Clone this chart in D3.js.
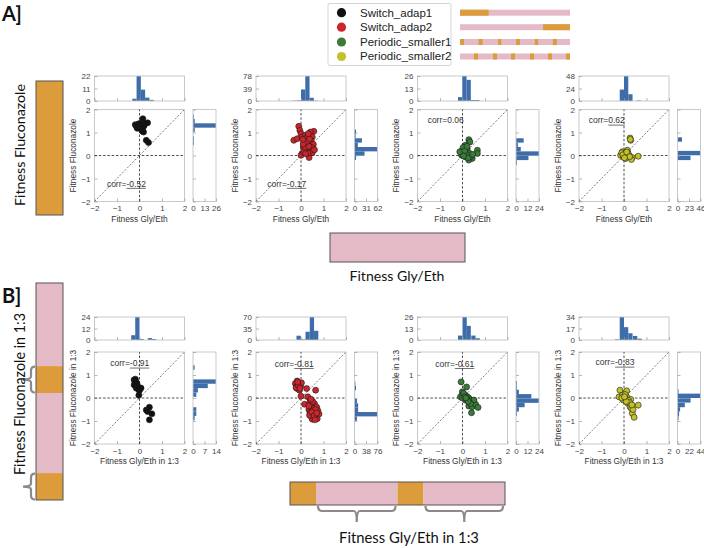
<!DOCTYPE html>
<html><head><meta charset="utf-8">
<script src="https://cdn.jsdelivr.net/npm/d3@7"></script>
<style>body{margin:0;background:#fff}</style>
</head><body><svg id="c" width="704" height="548" xmlns="http://www.w3.org/2000/svg"></svg>
<script>
// ---------------- DATA ----------------
const seriesNames = ["Switch_adap1", "Switch_adap2", "Periodic_smaller1", "Periodic_smaller2"];
const seriesColors = ["#111111", "#cc262c", "#3b7b3a", "#c3c12a"];
// orange fractions in each legend schedule bar
const legendOrange = [
  [[0, 0.26]],
  [[0.755, 1]],
  [[0, 0.036], [0.17, 0.205], [0.345, 0.375], [0.51, 0.545], [0.68, 0.71], [0.845, 0.88]],
  [[0.127, 0.164], [0.3, 0.336], [0.464, 0.5], [0.636, 0.673], [0.8, 0.836], [0.964, 1]]
];
const axisTicks = [-2, -1, 0, 1, 2];
const rowXLabels = ["Fitness Gly/Eth", "Fitness Gly/Eth in 1:3"];
const rowYLabels = ["Fitness Fluconazole", "Fitness Fluconazole in 1:3"];
const corrValues = ["-0.52", "-0.17", "0.06", "0.62", "-0.91", "-0.81", "-0.61", "-0.83"];
const corrUnderlined = [true, true, false, true, true, true, true, true];
const histBinWidth = 0.19;
const topHistMax = [22, 78, 26, 48, 24, 70, 26, 34];
const rightHistMax = [26, 62, 24, 46, 14, 76, 24, 44];

// scatter points [glyEth, fluconazole]
const ptsA1 = [[0.36,1.42],[0.15,1.6],[-0.19,1.34],[-0.12,1.24],[0.03,1.21],[0.1,1.09],[0.18,1.02],[-0.03,1.38],[0.06,1.31],[0.3,0.66],[0.4,0.56],[-0.15,1.3],[-0.08,1.35],[0,1.28],[0.08,1.2],[0.12,1.15],[-0.05,1.22],[0.2,1.3],[0.25,1.38],[0.05,1.4],[-0.1,1.18],[0.14,1.05],[0.02,1.33],[0.17,1.25]];
const ptsA2 = [[-0.1,1.27],[-0.05,1.09],[0,0.95],[-0.32,0.66],[-0.17,0.73],[0.05,0.8],[0.2,0.88],[0.57,1.05],[0.42,1.02],[0.5,0.8],[0.35,0.66],[0.2,0.52],[0.28,0.37],[0.42,0.3],[0.16,0.23],[0.05,0.09],[0,0.01],[0.36,-0.09],[0.5,0.12],[0.28,0.16],[0.1,0.37],[0.3,0.85],[0.25,0.75],[0.38,0.55],[0.45,0.45],[0.3,0.5],[0.22,0.42],[0.15,0.6],[0.33,0.28],[0.4,0.2],[0.25,0.3],[0.18,0.33],[0.12,0.15],[0.3,0.1],[0.45,0.65],[0.55,0.48],[0.48,0.35],[0.35,0.4],[0.27,0.62],[0.1,0.5],[0.2,0.08],[0.38,0.72],[0.6,0.25],[0.08,0.7],[0.32,0.95]];
const ptsA3 = [[0.28,0.69],[0.33,0.59],[0.13,0.45],[-0.01,0.23],[0.06,0.09],[0.21,0.16],[0.39,0.01],[0.66,0.23],[0.66,0.09],[0.43,-0.13],[0.28,-0.2],[0.13,-0.06],[-0.04,0.01],[0.21,0.3],[0.03,0.35],[-0.12,0.16],[0.3,0.1],[0.35,-0.05],[0.18,0.05],[0.1,0.2],[0.25,-0.1],[0.05,-0.02],[0.45,0.05],[0.2,0.4]];
const ptsA4 = [[0.27,0.76],[0.3,0.66],[0.28,0.7],[-0.07,0.16],[0.03,0.09],[0.15,0.23],[-0.15,0.01],[-0.03,-0.06],[0.22,0.01],[0.37,-0.09],[0.63,-0.03],[0.33,-0.17],[0.07,-0.13],[-0.1,0.12],[0,0],[0.05,0.05],[0.1,-0.02],[-0.05,0.03],[0.18,0.1],[0.12,0.15],[0.25,-0.05],[0.02,-0.1]];
const ptsB1 = [[-0.24,0.79],[-0.18,0.72],[-0.24,0.57],[-0.12,0.65],[-0.09,0.5],[-0.15,0.43],[-0.04,0.36],[0.07,0.43],[0,0.33],[-0.03,0.12],[-0.18,0.82],[-0.1,0.57],[-0.2,0.68],[-0.06,0.46],[0.44,-0.4],[0.3,-0.52],[0.36,-0.59],[0.55,-0.69],[0.44,-0.95]];
const ptsB2 = [[-0.17,0.74],[-0.25,0.63],[-0.1,0.63],[-0.2,0.51],[-0.02,0.51],[-0.17,0.41],[-0.07,0.34],[0.02,0.66],[-0.22,0.45],[-0.12,0.55],[-0.05,0.42],[-0.15,0.7],[0,0.08],[0.25,0.41],[0.65,0.34],[0.3,0.05],[0.16,-0.27],[0.42,-0.09],[0.4,-0.2],[0.5,-0.3],[0.6,-0.25],[0.45,-0.4],[0.55,-0.45],[0.7,-0.4],[0.35,-0.5],[0.5,-0.55],[0.62,-0.6],[0.75,-0.55],[0.4,-0.65],[0.55,-0.7],[0.68,-0.72],[0.45,-0.8],[0.6,-0.85],[0.72,-0.9],[0.5,-0.92],[0.38,-0.75],[0.8,-0.7],[0.65,-0.5],[0.48,-0.62],[0.58,-0.78],[0.7,-0.65],[0.35,-0.35],[0.62,-0.95],[0.52,-0.15],[0.44,-0.05]];
const ptsB3 = [[-0.06,0.7],[0.18,0.48],[-0.01,0.27],[-0.01,0.12],[0.06,0.02],[0.13,0.12],[0.21,0.05],[0.28,0],[0.36,-0.09],[0.28,-0.35],[0.43,-0.38],[0.4,-0.64],[0.58,-0.27],[0.69,-0.41],[0.51,-0.09],[-0.09,0.05],[0.13,-0.09],[0.36,-0.24],[0.05,0.2],[0.2,-0.05],[0,0],[0.1,0.05],[0.25,-0.15],[0.15,0]];
const ptsB4 = [[-0.18,0.34],[0.12,0.31],[-0.22,0.05],[-0.07,0.12],[0,0.02],[0.07,-0.09],[0.18,-0.24],[0.27,-0.38],[0.33,-0.46],[0.37,-0.67],[0.45,-0.84],[0.63,-0.31],[0.12,0.05],[-0.03,-0.09],[0.3,-0.06],[0.05,0.15],[-0.1,0],[0.2,-0.1],[0.4,-0.5],[0.25,-0.2],[0.1,-0.15],[0.02,0.05],[0.35,-0.3]];

// histogram bins [binStart, count]
const topA1 = [[-0.32,2],[-0.13,22],[0.06,10],[0.25,3],[0.44,1]];
const rightA1 = [[0.45,1],[0.64,1],[1.02,2],[1.21,26],[1.4,2],[1.59,1]];
const topA2 = [[-0.4,1],[-0.2,2],[0,36],[0.19,78],[0.38,10],[0.57,1]];
const rightA2 = [[-0.2,4],[-0.01,27],[0.18,62],[0.37,9],[0.56,20],[0.75,3],[0.94,4],[1.13,1]];
const topA3 = [[-0.2,4],[-0.01,26],[0.18,22],[0.37,1],[0.56,1]];
const rightA3 = [[-0.4,1],[-0.2,13],[-0.01,24],[0.18,5],[0.37,2],[0.56,8]];
const topA4 = [[-0.19,22],[0,48],[0.19,13],[0.57,1]];
const rightA4 = [[-0.2,26],[0.01,46],[0.6,9]];
const topB1 = [[-0.37,5],[-0.19,24],[0,1],[0.37,2],[0.55,1]];
const rightB1 = [[-0.97,1],[-0.78,2],[-0.59,2],[0.05,2],[0.24,3],[0.43,9],[0.62,14],[1.23,1]];
const topB2 = [[-0.2,13],[0.01,2],[0.2,25],[0.39,70],[0.58,28]];
const rightB2 = [[-0.99,8],[-0.8,76],[-0.61,12],[-0.42,12],[-0.23,8],[-0.04,2],[0.15,2],[0.34,5],[0.53,3]];
const topB3 = [[-0.2,5],[0,26],[0.18,16],[0.39,5],[0.58,2]];
const rightB3 = [[-0.78,1],[-0.59,3],[-0.4,9],[-0.21,24],[-0.02,16],[0.17,3],[0.36,1],[0.55,1]];
const topB4 = [[-0.4,1],[-0.19,34],[0,19],[0.19,10],[0.4,6],[0.6,2]];
const rightB4 = [[-0.97,2],[-0.78,3],[-0.59,5],[-0.4,14],[-0.2,25],[0,44],[0.19,2]];

const panelPoints = [ptsA1, ptsA2, ptsA3, ptsA4, ptsB1, ptsB2, ptsB3, ptsB4];
const panelTopHist = [topA1, topA2, topA3, topA4, topB1, topB2, topB3, topB4];
const panelRightHist = [rightA1, rightA2, rightA3, rightA4, rightB1, rightB2, rightB3, rightB4];

// ---------------- LAYOUT ----------------
const svg = d3.select("#c");
const ORANGE = "#dc9c3b", PINK = "#e4bac6", HIST = "#3f6daa", SPINE = "#c4c4c4", TXT = "#333";
const LBL_FONT = "Liberation Sans, Arial, sans-serif";
const BIG_FONT = "Lato, 'Open Sans', sans-serif";
const intFmt = d3.format("d");
const colLeft = [94.5, 256, 417.5, 579];
const rowGeo = [
  {hTop: 76, hBot: 101, top: 109.5, bot: 201.5},
  {hTop: 317, hBot: 340, top: 352, bot: 444}
];
const PW = 90, RH_OFF = 98.5, RH_W = 23;
const corrAnchor = [[-1.45,-1.35],[-1.5,-1.35],[-1.55,1.4],[-1.57,1.4],[-1.3,1.38],[-1.17,1.36],[-1.21,1.36],[-1.27,1.42]];

function styleAxis(g) {
  g.select(".domain").remove();
  g.selectAll(".tick line").attr("stroke", "#999").attr("stroke-width", 0.7);
  g.selectAll(".tick text").attr("fill", "#444").attr("font-size", 8).attr("font-family", LBL_FONT);
}
function frame(x, y, w, h) {
  svg.append("rect").attr("x", x).attr("y", y).attr("width", w).attr("height", h)
    .attr("fill", "none").attr("stroke", SPINE).attr("stroke-width", 0.9);
}
// big label sized so that its length matches the target length
function bigLabel(txt, cx, cy, len, vertical) {
  const t = svg.append("text").attr("text-anchor", "middle").attr("font-family", BIG_FONT)
    .attr("font-size", 15).attr("fill", "#111").text(txt);
  const w = t.node().getComputedTextLength();
  t.attr("font-size", 15 * len / w);
  t.attr("transform", vertical ? `translate(${cx},${cy}) rotate(-90)` : `translate(${cx},${cy})`);
}

for (let i = 0; i < 8; i++) {
  const row = Math.floor(i / 4), col = i % 4;
  const g0 = rowGeo[row], L = colLeft[col];
  const x = d3.scaleLinear().domain([-2, 2]).range([L, L + PW]);
  const y = d3.scaleLinear().domain([-2, 2]).range([g0.bot, g0.top]);

  // --- scatter
  frame(L, g0.top, PW, g0.bot - g0.top);
  svg.append("g").attr("transform", `translate(0,${g0.bot})`)
    .call(d3.axisBottom(x).tickValues(axisTicks).tickFormat(intFmt).tickSizeInner(-3).tickSizeOuter(0).tickPadding(4)).call(styleAxis);
  svg.append("g").attr("transform", `translate(${L},0)`)
    .call(d3.axisLeft(y).tickValues(axisTicks).tickFormat(intFmt).tickSizeInner(-3).tickSizeOuter(0).tickPadding(4)).call(styleAxis);

  svg.append("line").attr("x1", x(-2)).attr("y1", y(-2)).attr("x2", x(2)).attr("y2", y(2))
    .attr("stroke", "#222").attr("stroke-width", 0.6).attr("stroke-dasharray", "2,1.6");
  svg.append("line").attr("x1", x(-2)).attr("x2", x(2)).attr("y1", y(0)).attr("y2", y(0))
    .attr("stroke", "#222").attr("stroke-width", 0.8).attr("stroke-dasharray", "2.5,1.8");
  svg.append("line").attr("x1", x(0)).attr("x2", x(0)).attr("y1", y(-2)).attr("y2", y(2))
    .attr("stroke", "#222").attr("stroke-width", 0.8).attr("stroke-dasharray", "2.5,1.8");

  svg.append("g").selectAll("circle").data(panelPoints[i]).join("circle")
    .attr("cx", d => x(d[0])).attr("cy", d => y(d[1])).attr("r", 3)
    .attr("fill", seriesColors[col]).attr("stroke", "#1a1a1a").attr("stroke-width", 0.6);

  // corr text
  const ca = corrAnchor[i];
  const t1 = svg.append("text").attr("x", x(ca[0])).attr("y", y(ca[1]))
    .attr("font-family", LBL_FONT).attr("font-size", 8.5).attr("fill", TXT).text("corr=");
  const w1 = t1.node().getComputedTextLength();
  const t2 = svg.append("text").attr("x", x(ca[0]) + w1).attr("y", y(ca[1]))
    .attr("font-family", LBL_FONT).attr("font-size", 8.5).attr("fill", TXT).text(corrValues[i]);
  if (corrUnderlined[i]) {
    const w2 = t2.node().getComputedTextLength();
    svg.append("line").attr("x1", x(ca[0]) + w1).attr("x2", x(ca[0]) + w1 + w2)
      .attr("y1", y(ca[1]) + 1.8).attr("y2", y(ca[1]) + 1.8).attr("stroke", TXT).attr("stroke-width", 0.7);
  }

  // axis labels
  svg.append("text").attr("x", L + PW / 2).attr("y", g0.bot + 20).attr("text-anchor", "middle")
    .attr("font-family", LBL_FONT).attr("font-size", 8.3).attr("fill", TXT).text(rowXLabels[row]);
  svg.append("text").attr("transform", `translate(${L - 18.5},${(g0.top + g0.bot) / 2}) rotate(-90)`)
    .attr("text-anchor", "middle").attr("font-family", LBL_FONT).attr("font-size", 8.3).attr("fill", TXT).text(rowYLabels[row]);

  // --- top histogram
  const hy = d3.scaleLinear().domain([0, topHistMax[i]]).range([g0.hBot, g0.hTop]);
  svg.append("g").selectAll("rect").data(panelTopHist[i]).join("rect")
    .attr("x", d => x(d[0])).attr("width", d => x(d[0] + histBinWidth) - x(d[0]))
    .attr("y", d => hy(d[1])).attr("height", d => hy(0) - hy(d[1])).attr("fill", HIST);
  frame(L, g0.hTop, PW, g0.hBot - g0.hTop);
  svg.append("g").attr("transform", `translate(${L},0)`)
    .call(d3.axisLeft(hy).tickValues([0, topHistMax[i] / 2, topHistMax[i]]).tickFormat(intFmt).tickSizeInner(-3).tickSizeOuter(0).tickPadding(4)).call(styleAxis);
  svg.append("g").attr("transform", `translate(0,${g0.hBot})`)
    .call(d3.axisBottom(x).tickValues(axisTicks).tickSizeInner(-3).tickSizeOuter(0).tickFormat("")).call(styleAxis);

  // --- right histogram
  const RL = L + RH_OFF;
  const hx = d3.scaleLinear().domain([0, rightHistMax[i]]).range([RL, RL + RH_W]);
  svg.append("g").selectAll("rect").data(panelRightHist[i]).join("rect")
    .attr("y", d => y(d[0] + histBinWidth)).attr("height", d => y(d[0]) - y(d[0] + histBinWidth))
    .attr("x", hx(0)).attr("width", d => hx(d[1]) - hx(0)).attr("fill", HIST);
  frame(RL, g0.top, RH_W, g0.bot - g0.top);
  svg.append("g").attr("transform", `translate(0,${g0.bot})`)
    .call(d3.axisBottom(hx).tickValues([0, rightHistMax[i] / 2, rightHistMax[i]]).tickFormat(intFmt).tickSizeInner(-3).tickSizeOuter(0).tickPadding(4)).call(styleAxis);
  svg.append("g").attr("transform", `translate(${RL},0)`)
    .call(d3.axisLeft(y).tickValues(axisTicks).tickSizeInner(-3).tickSizeOuter(0).tickFormat("")).call(styleAxis);
}

// ---------------- LEGEND ----------------
const lgY = [12.7, 27.2, 42, 56.5];
svg.append("rect").attr("x", 328).attr("y", 3.5).attr("width", 123).attr("height", 62)
  .attr("rx", 2).attr("fill", "#fff").attr("stroke", "#d0d0d0").attr("stroke-width", 0.9);
seriesNames.forEach((nm, k) => {
  svg.append("circle").attr("cx", 341.5).attr("cy", lgY[k]).attr("r", 4.6).attr("fill", seriesColors[k]);
  svg.append("text").attr("x", 360).attr("y", lgY[k] + 3.8).attr("font-family", "'Liberation Sans Narrow', 'Liberation Sans', sans-serif")
    .attr("font-size", 11.5).attr("fill", "#222").text(nm);
  const bx = d3.scaleLinear().domain([0, 1]).range([460, 570]);
  svg.append("rect").attr("x", bx(0)).attr("y", lgY[k] - 3).attr("width", bx(1) - bx(0)).attr("height", 6).attr("fill", PINK);
  legendOrange[k].forEach(s => {
    svg.append("rect").attr("x", bx(s[0])).attr("y", lgY[k] - 3).attr("width", bx(s[1]) - bx(s[0])).attr("height", 6).attr("fill", ORANGE);
  });
});

// ---------------- SCHEMATIC BARS ----------------
svg.append("text").attr("x", 2).attr("y", 21).attr("font-family", BIG_FONT).attr("font-weight", 700)
  .attr("font-size", 20).attr("fill", "#111").text("A]");
svg.append("text").attr("x", 2).attr("y", 303).attr("font-family", BIG_FONT).attr("font-weight", 700)
  .attr("font-size", 20).attr("fill", "#111").text("B]");

// A: vertical orange, horizontal pink
svg.append("rect").attr("x", 36).attr("y", 81).attr("width", 27).attr("height", 134)
  .attr("fill", ORANGE).attr("stroke", "#555").attr("stroke-width", 1);
bigLabel("Fitness Fluconazole", 25, 145, 122, true);
svg.append("rect").attr("x", 330).attr("y", 233).attr("width", 135).attr("height", 29)
  .attr("fill", PINK).attr("stroke", "#555").attr("stroke-width", 1);
bigLabel("Fitness Gly/Eth", 397, 281, 95, false);

// B: vertical 1:3
const vSegs = [[0, 0.383, PINK], [0.383, 0.507, ORANGE], [0.507, 0.876, PINK], [0.876, 1, ORANGE]];
const vy = d3.scaleLinear().domain([0, 1]).range([283, 500]);
vSegs.forEach(s => svg.append("rect").attr("x", 36).attr("y", vy(s[0])).attr("width", 27).attr("height", vy(s[1]) - vy(s[0])).attr("fill", s[2]));
svg.append("rect").attr("x", 36).attr("y", 283).attr("width", 27).attr("height", 217).attr("fill", "none").attr("stroke", "#555").attr("stroke-width", 1);
[[0.383, 0.507], [0.876, 1]].forEach(s => {
  const y1 = vy(s[0]) + 0.5, y2 = vy(s[1]) - 0.5, m = (y1 + y2) / 2, x0 = 35;
  svg.append("path").attr("d", `M${x0},${y1} Q${x0-4},${y1} ${x0-4},${y1+4} L${x0-4},${m-3} Q${x0-4},${m} ${x0-12},${m} Q${x0-4},${m} ${x0-4},${m+3} L${x0-4},${y2-4} Q${x0-4},${y2} ${x0},${y2}`)
    .attr("fill", "none").attr("stroke", "#8a8a8a").attr("stroke-width", 2.2);
});
bigLabel("Fitness Fluconazole in 1:3", 25, 394, 162, true);

// B: horizontal 1:3
const hSegs = [[0, 0.121, ORANGE], [0.121, 0.5, PINK], [0.5, 0.621, ORANGE], [0.621, 1, PINK]];
const hxs = d3.scaleLinear().domain([0, 1]).range([290, 505]);
hSegs.forEach(s => svg.append("rect").attr("x", hxs(s[0])).attr("y", 482).attr("width", hxs(s[1]) - hxs(s[0])).attr("height", 23).attr("fill", s[2]));
svg.append("rect").attr("x", 290).attr("y", 482).attr("width", 215).attr("height", 23).attr("fill", "none").attr("stroke", "#555").attr("stroke-width", 1);
[[0.121, 0.5], [0.621, 1]].forEach(s => {
  const x1 = hxs(s[0]) + 2, x2 = hxs(s[1]) - 2, m = (x1 + x2) / 2, y0 = 506;
  svg.append("path").attr("d", `M${x1},${y0} Q${x1},${y0+5} ${x1+4},${y0+5} L${m-3},${y0+5} Q${m},${y0+5} ${m},${y0+16} Q${m},${y0+5} ${m+3},${y0+5} L${x2-4},${y0+5} Q${x2},${y0+5} ${x2},${y0}`)
    .attr("fill", "none").attr("stroke", "#8a8a8a").attr("stroke-width", 2.2);
});
bigLabel("Fitness Gly/Eth in 1:3", 409, 543, 140, false);
</script></body></html>
